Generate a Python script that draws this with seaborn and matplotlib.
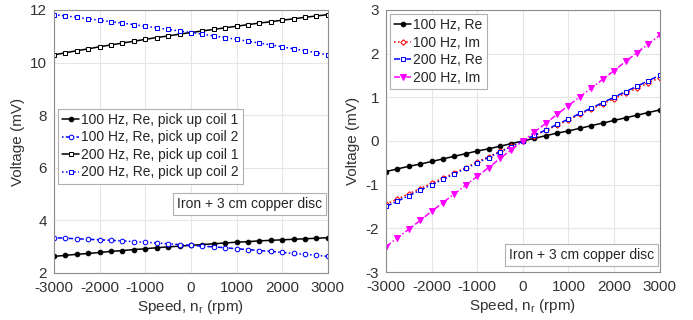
import numpy as np
import pandas as pd
import matplotlib
matplotlib.use("Agg")
import matplotlib.pyplot as plt
import seaborn as sns

# ------------------------------------------------------------
# Donnees
# ------------------------------------------------------------

speed = [-3000, -2750, -2500, -2250, -2000, -1750, -1500, -1250, -1000, -750, -500, -250,
         0, 250, 500, 750, 1000, 1250, 1500, 1750, 2000, 2250, 2500, 2750, 3000]

# gauche : partie reelle, deux bobines
re100_coil1 = [2.63, 2.67, 2.71, 2.74, 2.78, 2.82, 2.85, 2.89, 2.92, 2.96, 2.99, 3.02, 3.05,
               3.08, 3.11, 3.14, 3.17, 3.19, 3.22, 3.24, 3.26, 3.28, 3.30, 3.32, 3.34]
re100_coil2 = re100_coil1[::-1]
re200_coil1 = [10.29, 10.37, 10.45, 10.52, 10.60, 10.67, 10.74, 10.81, 10.88, 10.95, 11.01, 11.08, 11.14,
               11.20, 11.26, 11.32, 11.38, 11.44, 11.50, 11.55, 11.61, 11.66, 11.72, 11.77, 11.82]
re200_coil2 = re200_coil1[::-1]

# droite : Re / Im
re100 = [-0.70, -0.64, -0.58, -0.53, -0.47, -0.41, -0.35, -0.29, -0.23, -0.18, -0.12, -0.06, 0.0,
         0.06, 0.12, 0.18, 0.23, 0.29, 0.35, 0.41, 0.47, 0.53, 0.59, 0.65, 0.71]
im100 = [-1.45, -1.33, -1.21, -1.09, -0.97, -0.85, -0.73, -0.61, -0.48, -0.36, -0.24, -0.12, 0.0,
         0.12, 0.24, 0.36, 0.48, 0.61, 0.73, 0.85, 0.97, 1.09, 1.21, 1.33, 1.45]
re200 = [-1.50, -1.38, -1.25, -1.13, -1.00, -0.88, -0.75, -0.63, -0.50, -0.38, -0.25, -0.13, 0.0,
         0.13, 0.25, 0.38, 0.50, 0.63, 0.75, 0.88, 1.00, 1.13, 1.25, 1.38, 1.50]
im200 = [-2.42, -2.22, -2.02, -1.82, -1.61, -1.41, -1.21, -1.01, -0.81, -0.61, -0.40, -0.20, 0.0,
         0.20, 0.40, 0.61, 0.81, 1.01, 1.21, 1.41, 1.61, 1.82, 2.02, 2.22, 2.42]

xticks = [-3000, -2000, -1000, 0, 1000, 2000, 3000]

# ------------------------------------------------------------
# Style
# ------------------------------------------------------------

sns.set_style("whitegrid", {"grid.color": "#e6e6e6", "axes.edgecolor": "#8c8c8c"})
plt.rcParams["font.family"] = ["Liberation Sans", "DejaVu Sans"]
plt.rcParams["font.size"] = 11
plt.rcParams["axes.unicode_minus"] = False
plt.rcParams["xtick.color"] = "#333333"
plt.rcParams["ytick.color"] = "#333333"
plt.rcParams["axes.labelcolor"] = "#333333"

fig = plt.figure(figsize=(6.93, 3.2), dpi=100)
ax1 = fig.add_axes([0.078, 0.147, 0.395, 0.822])
ax2 = fig.add_axes([0.557, 0.150, 0.395, 0.819])

lw = 1.1
ms = 3.3
box = dict(boxstyle="square,pad=0.3", facecolor="white", edgecolor="#b0b0b0", linewidth=0.8)

# ------------------------------------------------------------
# Graphe de gauche
# ------------------------------------------------------------

sns.lineplot(x=speed, y=re100_coil1, ax=ax1, color="black", marker="o", markersize=ms,
             linewidth=lw, markeredgecolor="black", label="100 Hz, Re, pick up coil 1")
sns.lineplot(x=speed, y=re100_coil2, ax=ax1, color="blue", marker="o", markersize=ms,
             linewidth=lw, linestyle=(0, (1, 1.5, 3, 1.5)), markerfacecolor="white",
             markeredgecolor="blue", label="100 Hz, Re, pick up coil 2")
sns.lineplot(x=speed, y=re200_coil1, ax=ax1, color="black", marker="s", markersize=ms,
             linewidth=lw, markerfacecolor="white", markeredgecolor="black",
             label="200 Hz, Re, pick up coil 1")
sns.lineplot(x=speed, y=re200_coil2, ax=ax1, color="blue", marker="s", markersize=ms,
             linewidth=lw, linestyle=":", markerfacecolor="white", markeredgecolor="blue",
             label="200 Hz, Re, pick up coil 2")

ax1.set_xlim(-3000, 3000)
ax1.set_ylim(2, 12)
ax1.set_xticks(xticks)
ax1.set_yticks([2, 4, 6, 8, 10, 12])
ax1.set_xlabel(r"Speed, n$_\mathregular{r}$ (rpm)", labelpad=2)
ax1.set_ylabel("Voltage (mV)", labelpad=4)
leg1 = ax1.legend(loc="upper left", bbox_to_anchor=(0.0, 0.64), fontsize=10,
                  handlelength=1.2, handletextpad=0.15, borderpad=0.3, labelspacing=0.25,
                  fancybox=False, edgecolor="#b0b0b0", borderaxespad=0.3, framealpha=1)
leg1.get_frame().set_linewidth(0.8)
ax1.text(0.98, 0.262, "Iron + 3 cm copper disc", transform=ax1.transAxes, ha="right",
         va="center", fontsize=10, bbox=box)

# ------------------------------------------------------------
# Graphe de droite
# ------------------------------------------------------------

sns.lineplot(x=speed, y=re100, ax=ax2, color="black", marker="o", markersize=ms,
             linewidth=lw, markeredgecolor="black", label="100 Hz, Re")
sns.lineplot(x=speed, y=im100, ax=ax2, color="red", marker="D", markersize=2.8,
             linewidth=lw, linestyle=":", markerfacecolor="white", markeredgecolor="red",
             label="100 Hz, Im")
sns.lineplot(x=speed, y=re200, ax=ax2, color="blue", marker="s", markersize=ms,
             linewidth=lw, linestyle=(0, (4, 1.5, 1, 1.5)), markerfacecolor="white",
             markeredgecolor="blue", label="200 Hz, Re")
sns.lineplot(x=speed, y=im200, ax=ax2, color="magenta", marker="v", markersize=ms + 0.5,
             linewidth=lw, linestyle=(0, (4, 1.5, 1, 1.5)), markeredgecolor="magenta",
             label="200 Hz, Im")

ax2.set_xlim(-3000, 3000)
ax2.set_ylim(-3, 3)
ax2.set_xticks(xticks)
ax2.set_yticks([-3, -2, -1, 0, 1, 2, 3])
ax2.set_xlabel(r"Speed, n$_\mathregular{r}$ (rpm)", labelpad=2)
ax2.set_ylabel("Voltage (mV)", labelpad=4)
leg2 = ax2.legend(loc="upper left", fontsize=10, handlelength=1.2, handletextpad=0.15,
                  borderpad=0.3, labelspacing=0.25, fancybox=False, edgecolor="#b0b0b0",
                  borderaxespad=0.3, framealpha=1)
leg2.get_frame().set_linewidth(0.8)
ax2.text(0.98, 0.065, "Iron + 3 cm copper disc", transform=ax2.transAxes, ha="right",
         va="center", fontsize=10, bbox=box)

for ax in (ax1, ax2):
    for s in ax.spines.values():
        s.set_linewidth(0.8)
    ax.tick_params(axis="x", length=0, pad=6)
    ax.tick_params(axis="y", length=0, pad=5)

fig.savefig("out.png", dpi=100)
